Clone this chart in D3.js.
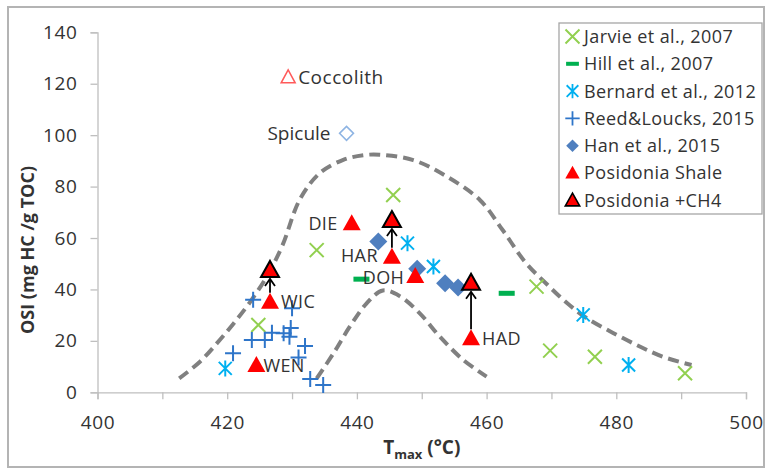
<!DOCTYPE html>
<html>
<head>
<meta charset="utf-8">
<script src="https://cdnjs.cloudflare.com/ajax/libs/d3/7.8.5/d3.min.js"></script>
<style>
  body { margin: 0; background: #fff; }
  svg text { font-family: "Open Sans", sans-serif; fill: #333; }
</style>
</head>
<body>
<div id="chart"></div>
<script>
// data: [Tmax, OSI]
var jarvie  = [[424.8,26.2],[433.8,55.3],[445.6,76.7],[467.7,41.1],[469.8,16.2],[476.7,13.8],[490.6,7.4]];
var hill    = [[440.7,44],[463.1,38.5]];
var bernard = [[419.7,9.3],[447.8,58],[451.8,48.9],[474.9,30.1],[481.9,10.6]];
var reed    = [[424,36],[420.9,15.2],[423.8,20.3],[425.8,20.3],[426.9,23.2],[428.7,23],[429.6,21.6],
               [429.8,25],[430,32.7],[432,18],[431,13.5],[432.8,5.2],[434.8,2.8]];
var han     = [[443.3,58.6],[449.3,48],[453.6,42.4],[455.6,40.8]];
var shaleNames = ["WIC","WEN","DIE","HAR","DOH","HAD"];
var shaleT     = [426.6, 424.5, 439.2, 445.4, 449.0, 457.6];
var shaleOSI   = [35.2, 10.6, 65.7, 52.7, 45.2, 21];
var ch4T    = [426.6, 445.4, 457.6];
var ch4From = [35.2, 52.7, 21];
var ch4OSI  = [47.6, 67, 42.6];
var coccolith = [429.4, 122.7];
var spicule   = [438.4, 100.7];
var outerCurve = [[412.6,5.4],[415.8,11.9],[418.4,19],[420.9,26.5],[423.5,35],[426.1,45],[428.5,57],
                  [431.2,75],[434.3,85.3],[437.9,90.4],[441,92.2],[443.5,92.4],[448.7,90.3],[453.8,84],
                  [459,74.7],[462.5,63],[466,50.5],[469.3,42],[472.4,34.7],[475.4,28.9],[479.5,23.1],
                  [483.7,17.7],[487.2,13.8],[491.6,10.6]];
var innerCurve = [[433.8,5.4],[436.4,15.2],[438.9,25.5],[441.5,34.6],[444,39.6],[446.6,37.4],
                  [449.7,30.7],[452.8,21.6],[456.4,12.6],[460,6.1]];
var legendNames = ["Jarvie et al., 2007","Hill et al., 2007","Bernard et al., 2012","Reed&Loucks, 2015",
                   "Han et al., 2015","Posidonia Shale","Posidonia +CH4"];
var xTicks = d3.range(400, 501, 10);
var yTicks = d3.range(0, 141, 20);

var W = 766, H = 470;
var svg = d3.select("#chart").append("svg").attr("width", W).attr("height", H);

// outer frame
svg.append("rect").attr("x", 8).attr("y", 7).attr("width", 756).attr("height", 460)
  .attr("fill", "none").attr("stroke", "#b4b4b4").attr("stroke-width", 2);

var x = d3.scaleLinear().domain([400, 500]).range([97.5, 746]);
var y = d3.scaleLinear().domain([0, 140]).range([392.3, 32.3]);

var gx = svg.append("g").attr("transform", "translate(0," + y(0) + ")")
  .call(d3.axisBottom(x).tickValues(xTicks).tickSize(7).tickPadding(16)
    .tickFormat(function(d){ return d % 20 === 0 ? d : ""; }));
var gy = svg.append("g").attr("transform", "translate(" + x(400) + ",0)")
  .call(d3.axisLeft(y).tickValues(yTicks).tickSize(7).tickPadding(13));
[gx, gy].forEach(function(g){
  g.select(".domain").attr("stroke", "#bfbfbf").attr("stroke-width", 1.3);
  g.selectAll(".tick line").attr("stroke", "#bfbfbf").attr("stroke-width", 1.3);
  g.selectAll(".tick text").style("font-size", "19px").style("font-family", "Open Sans")
    .style("letter-spacing", "0.6px").attr("fill", "#333");
});

// axis titles
var xt = svg.append("text").attr("x", x(450)).attr("y", 454).attr("text-anchor", "middle")
  .style("font-size", "19px").style("font-weight", "bold");
xt.append("tspan").text("T");
xt.append("tspan").text("max").style("font-size", "13px").attr("dy", 5);
xt.append("tspan").text(" (°C)").attr("dy", -5);

svg.append("text").attr("transform", "translate(34,250) rotate(-90)").attr("text-anchor", "middle")
  .style("font-size", "18px").style("font-weight", "bold").text("OSI (mg HC /g TOC)");

// dashed envelope curves
var line = d3.line().x(function(d){ return x(d[0]); }).y(function(d){ return y(d[1]); })
  .curve(d3.curveCatmullRom);
[outerCurve, innerCurve].forEach(function(c){
  svg.append("path").attr("d", line(c)).attr("fill", "none").attr("stroke", "#808080")
    .attr("stroke-width", 4).attr("stroke-dasharray", "11,6");
});

// marker shapes
var shapes = {
  cross: function(g){ g.append("path").attr("d", "M-7,-7L7,7M-7,7L7,-7").attr("stroke", "#92d050").attr("stroke-width", 2).attr("fill", "none"); },
  dash: function(g){ g.append("rect").attr("x", -8).attr("y", -2.5).attr("width", 16).attr("height", 5).attr("fill", "#00b050"); },
  star: function(g){ g.append("path").attr("d", "M-6.5,-6.5L6.5,6.5M-6.5,6.5L6.5,-6.5M0,-8L0,8").attr("stroke", "#00b0f0").attr("stroke-width", 2).attr("fill", "none"); },
  plus: function(g){ g.append("path").attr("d", "M-8,0L8,0M0,-8L0,8").attr("stroke", "#2e75c9").attr("stroke-width", 2).attr("fill", "none"); },
  diamond: function(g){ g.append("path").attr("d", "M0,-9L9,0L0,9L-9,0Z").attr("fill", "#4f7fbf"); },
  tri: function(g){ g.append("path").attr("d", "M0,-9L9,7L-9,7Z").attr("fill", "#ff0000"); },
  triB: function(g){ g.append("path").attr("d", "M0,-9L9,7L-9,7Z").attr("fill", "#ff0000").attr("stroke", "#000").attr("stroke-width", 2); }
};
function plot(data, shape){
  svg.append("g").selectAll("g").data(data).enter().append("g")
    .attr("transform", function(d){ return "translate(" + x(d[0]) + "," + y(d[1]) + ")"; })
    .each(function(){ shapes[shape](d3.select(this)); });
}

plot(jarvie, "cross");
plot(hill, "dash");
plot(bernard, "star");
plot(reed, "plus");
plot(han, "diamond");
plot(d3.zip(shaleT, shaleOSI), "tri");

// arrows from shale to +CH4
ch4T.forEach(function(t, i){
  var px = x(t), y1 = y(ch4From[i]) - 9, y2 = y(ch4OSI[i]) + 9;
  svg.append("line").attr("x1", px).attr("x2", px).attr("y1", y1).attr("y2", y2)
    .attr("stroke", "#000").attr("stroke-width", 1.8);
  svg.append("path").attr("d", "M" + (px - 5) + "," + (y2 + 7) + "L" + px + "," + y2 + "L" + (px + 5) + "," + (y2 + 7))
    .attr("stroke", "#000").attr("stroke-width", 1.8).attr("fill", "none");
});
plot(d3.zip(ch4T, ch4OSI), "triB");

// sample labels
var labelPos = { WIC: [11, "start", 0], WEN: [7, "start", 0], DIE: [-14, "end", 0], HAR: [-14, "end", -1], DOH: [-11, "end", 1.5], HAD: [11, "start", 0] };
shaleNames.forEach(function(n, i){
  svg.append("text").attr("x", x(shaleT[i]) + labelPos[n][0]).attr("y", y(shaleOSI[i]) + labelPos[n][2])
    .attr("dy", "0.36em").attr("text-anchor", labelPos[n][1]).style("font-size", "18px")
    .style("letter-spacing", "0.4px").text(n);
});

// coccolith & spicule
svg.append("path").attr("transform", "translate(" + x(coccolith[0]) + "," + y(coccolith[1]) + ")")
  .attr("d", "M0,-7L7,6L-7,6Z").attr("fill", "none").attr("stroke", "#ff5a5a").attr("stroke-width", 1.5);
svg.append("text").attr("x", x(coccolith[0]) + 10).attr("y", y(coccolith[1])).attr("dy", "0.36em")
  .style("font-size", "19px").style("letter-spacing", "0.5px").text("Coccolith");
svg.append("path").attr("transform", "translate(" + x(spicule[0]) + "," + y(spicule[1]) + ")")
  .attr("d", "M0,-7L7,0L0,7L-7,0Z").attr("fill", "none").attr("stroke", "#8eb4e3").attr("stroke-width", 1.5);
svg.append("text").attr("x", x(spicule[0]) - 16).attr("y", y(spicule[1])).attr("dy", "0.36em")
  .attr("text-anchor", "end").style("font-size", "19px").text("Spicule");

// legend
var lg = svg.append("g");
lg.append("rect").attr("x", 559).attr("y", 23).attr("width", 203).attr("height", 191)
  .attr("fill", "#fff").attr("stroke", "#a6a6a6").attr("stroke-width", 1.3);
var legShapes = ["cross", "dash", "star", "plus", "diamond", "tri", "triB"];
var legScale  = [1, 0.8, 0.9, 0.9, 0.7, 0.8, 0.8];
legendNames.forEach(function(n, i){
  var ly = 36.5 + i * 27.3;
  var g = lg.append("g").attr("transform", "translate(572.5," + ly + ") scale(" + legScale[i] + ")");
  shapes[legShapes[i]](g);
  lg.append("text").attr("x", 584).attr("y", ly).attr("dy", "0.36em").style("font-size", "18px")
    .style("letter-spacing", "0.4px").text(n);
});
</script>
</body>
</html>
